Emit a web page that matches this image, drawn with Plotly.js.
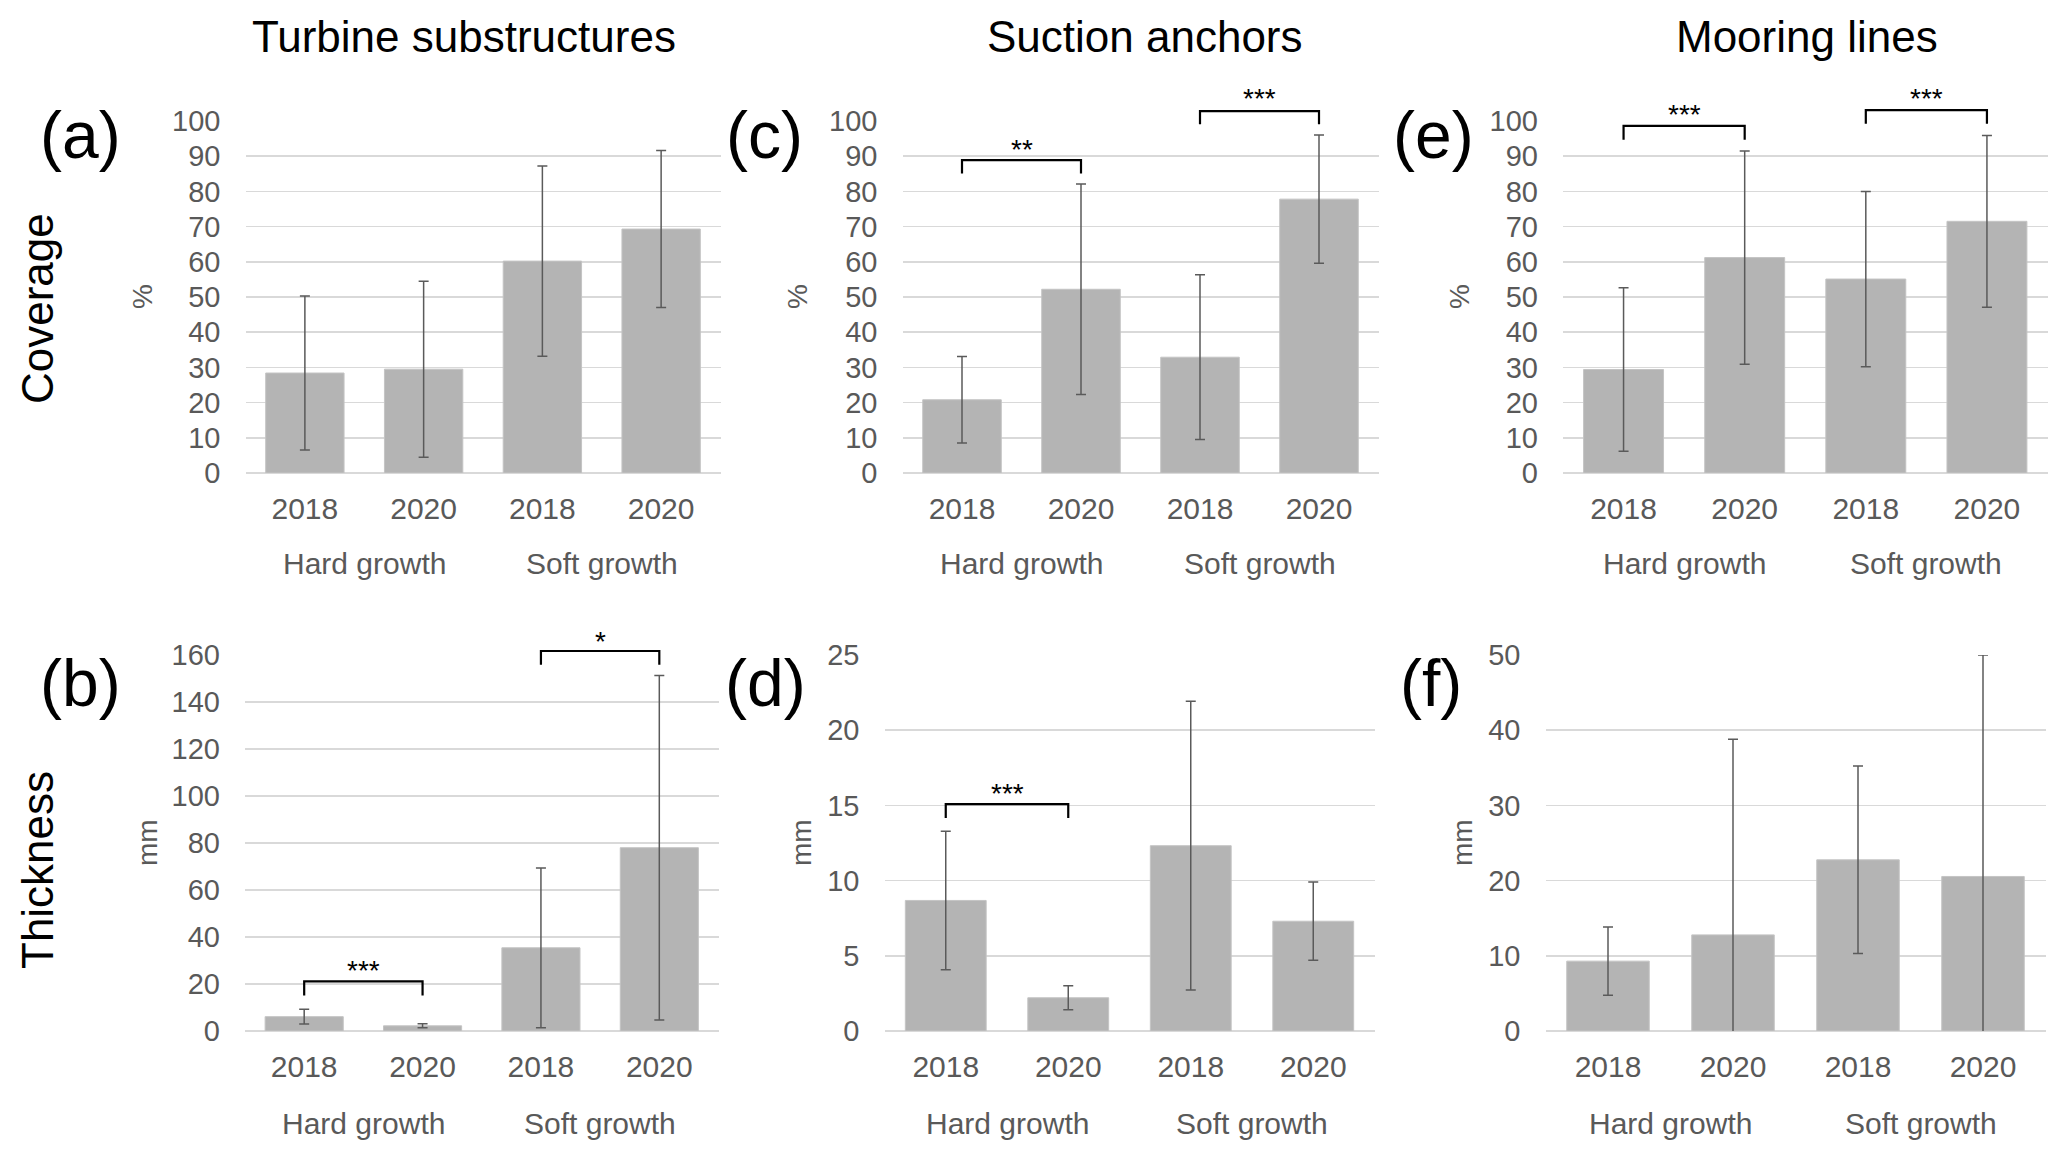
<!DOCTYPE html>
<html><head><meta charset="utf-8">
<script src="https://cdn.plot.ly/plotly-3.0.1.min.js"></script>
<style>html,body{margin:0;padding:0;background:#fff}#chart{width:2061px;height:1159px}</style>
</head><body><div id="chart"></div>
<script>
// ---------- data ----------
const yearLabels = ['2018', '2020', '2018', '2020'];
const groupLabels = ['Hard growth', 'Soft growth'];
const structureTitles = ['Turbine substructures', 'Suction anchors', 'Mooring lines'];
const rowTitles = ['Coverage', 'Thickness'];
const panelLetters = ['(a)', '(c)', '(e)', '(b)', '(d)', '(f)'];
const unitLabels = ['%', '%', '%', 'mm', 'mm', 'mm'];

// Coverage (%)
const coverageTurbine = [28.4, 29.5, 60.2, 69.3];
const coverageTurbineSD = [21.9, 25.0, 27.0, 22.3];
const coverageAnchors = [20.8, 52.2, 32.9, 77.8];
const coverageAnchorsSD = [12.3, 29.9, 23.4, 18.2];
const coverageMooring = [29.4, 61.2, 55.1, 71.5];
const coverageMooringSD = [23.2, 30.3, 24.9, 24.4];
// Thickness (mm)
const thicknessTurbine = [6.1, 2.2, 35.4, 78.0];
const thicknessTurbineSD = [3.15, 0.85, 34.0, 73.3];
const thicknessAnchors = [8.68, 2.21, 12.32, 7.30];
const thicknessAnchorsSD = [4.6, 0.8, 9.6, 2.6];
const thicknessMooring = [9.29, 12.78, 22.76, 20.55];
const thicknessMooringSD = [4.55, 26.0, 12.47, 29.45];

const axisMax = [100, 100, 100, 160, 25, 50];
const axisStep = [10, 10, 10, 20, 5, 10];

// significance brackets: panel index, from category, to category, bracket level, tick end, label, label level
const sigPanel = [1, 1, 2, 2, 3, 3, 4];
const sigFrom = [0, 2, 0, 2, 0, 2, 0];
const sigTo = [1, 3, 1, 3, 1, 3, 1];
const sigLevel = [88.9, 102.8, 98.6, 103.1, 21.1, 161.7, 15.09];
const sigTickEnd = [85.1, 99.1, 94.7, 99.2, 15.1, 155.9, 14.16];
const sigText = ['**', '***', '***', '***', '***', '*', '***'];
const sigTextLevel = [93.8, 108.3, 103.8, 108.3, 28.5, 168.5, 16.25];

// ---------- layout geometry (pixels) ----------
const W = 2061, H = 1159;
const FONT = 'Liberation Sans, Arial, sans-serif';
const panels = [
  {xd: [245.5, 720.5], yd: [121, 473], mean: coverageTurbine, sd: coverageTurbineSD, unitX: 143, letter: [80, 135], grp: 90},
  {xd: [902.5, 1378.5], yd: [121, 473], mean: coverageAnchors, sd: coverageAnchorsSD, unitX: 798, letter: [764, 135], grp: 90},
  {xd: [1563, 2047.5], yd: [121, 473], mean: coverageMooring, sd: coverageMooringSD, unitX: 1460, letter: [1433, 135], grp: 90},
  {xd: [245, 718.5], yd: [655, 1031], mean: thicknessTurbine, sd: thicknessTurbineSD, unitX: 147, letter: [80, 683], grp: 92},
  {xd: [884.5, 1374.5], yd: [655, 1031], mean: thicknessAnchors, sd: thicknessAnchorsSD, unitX: 801, letter: [765, 683], grp: 92},
  {xd: [1545.5, 2045.5], yd: [655, 1031], mean: thicknessMooring, sd: thicknessMooringSD, unitX: 1462, letter: [1431, 683], grp: 92}
];
const titlePos = [[464, 37], [1145, 37], [1807, 37]];
const rowTitlePos = [[37, 309], [37, 870]];

const PX = p => p / W;
const PY = p => 1 - p / H;

const data = [];
const layout = {
  width: W, height: H,
  margin: {l: 0, r: 0, t: 0, b: 0},
  paper_bgcolor: '#ffffff', plot_bgcolor: '#ffffff',
  showlegend: false,
  bargap: 0.34,
  font: {family: FONT, color: '#595959'},
  annotations: [], shapes: []
};

panels.forEach((p, i) => {
  const k = i + 1;
  const xs = k === 1 ? '' : String(k);
  data.push({
    type: 'bar',
    x: [0, 1, 2, 3],
    y: p.mean,
    xaxis: 'x' + xs, yaxis: 'y' + xs,
    marker: {color: '#b4b4b4', line: {color: '#c4c4c4', width: 1}},
    error_y: {type: 'data', array: p.sd, visible: true, color: '#5a5a5a', thickness: 1.5, width: 5},
    hoverinfo: 'none'
  });
  layout['xaxis' + xs] = {
    domain: [PX(p.xd[0]), PX(p.xd[1])],
    anchor: 'y' + xs,
    range: [-0.5, 3.5],
    tickmode: 'array', tickvals: [0, 1, 2, 3], ticktext: yearLabels,
    tickfont: {size: 30, color: '#595959', family: FONT},
    ticks: '', ticklabelstandoff: 15,
    showgrid: false, zeroline: false, showline: false, fixedrange: true
  };
  layout['yaxis' + xs] = {
    domain: [PY(p.yd[1]), PY(p.yd[0])],
    anchor: 'x' + xs,
    range: [0, axisMax[i]], tick0: 0, dtick: axisStep[i],
    tickfont: {size: 29, color: '#595959', family: FONT},
    ticks: '', ticklabelstandoff: 24,
    showgrid: true, gridcolor: '#d9d9d9', gridwidth: 1.5,
    zeroline: true, zerolinecolor: '#d9d9d9', zerolinewidth: 2,
    showline: false, fixedrange: true
  };
  // group labels
  groupLabels.forEach((g, j) => {
    layout.annotations.push({
      xref: 'x' + xs, yref: 'paper', x: 0.5 + 2 * j, y: PY(p.yd[1] + p.grp),
      text: g, showarrow: false, xanchor: 'center', yanchor: 'middle',
      font: {size: 30, color: '#595959', family: FONT}
    });
  });
  // unit label
  layout.annotations.push({
    xref: 'paper', yref: 'paper', x: PX(p.unitX), y: PY((p.yd[0] + p.yd[1]) / 2),
    text: unitLabels[i], textangle: -90, showarrow: false,
    xanchor: 'center', yanchor: 'middle',
    font: {size: 28, color: '#595959', family: FONT}
  });
  // panel letter
  layout.annotations.push({
    xref: 'paper', yref: 'paper', x: PX(p.letter[0]), y: PY(p.letter[1]),
    text: panelLetters[i], showarrow: false, xanchor: 'center', yanchor: 'middle',
    font: {size: 66, color: '#000000', family: FONT}
  });
});

structureTitles.forEach((t, i) => {
  layout.annotations.push({
    xref: 'paper', yref: 'paper', x: PX(titlePos[i][0]), y: PY(titlePos[i][1]),
    text: t, showarrow: false, xanchor: 'center', yanchor: 'middle',
    font: {size: 44, color: '#000000', family: FONT}
  });
});
rowTitles.forEach((t, i) => {
  layout.annotations.push({
    xref: 'paper', yref: 'paper', x: PX(rowTitlePos[i][0]), y: PY(rowTitlePos[i][1]),
    text: t, textangle: -90, showarrow: false, xanchor: 'center', yanchor: 'middle',
    font: {size: 44, color: '#000000', family: FONT}
  });
});

// significance brackets
const catPx = (p, c) => p.xd[0] + (c + 0.5) / 4 * (p.xd[1] - p.xd[0]);
const valPx = (p, i, v) => p.yd[1] - v / axisMax[i] * (p.yd[1] - p.yd[0]);
sigPanel.forEach((pi, s) => {
  const p = panels[pi];
  const x1 = catPx(p, sigFrom[s]), x2 = catPx(p, sigTo[s]);
  const yl = valPx(p, pi, sigLevel[s]), yt = valPx(p, pi, sigTickEnd[s]);
  layout.shapes.push({
    type: 'path', xref: 'paper', yref: 'paper',
    path: `M ${PX(x1)},${PY(yt)} L ${PX(x1)},${PY(yl)} L ${PX(x2)},${PY(yl)} L ${PX(x2)},${PY(yt)}`,
    line: {color: '#000000', width: 2.2}
  });
  layout.annotations.push({
    xref: 'paper', yref: 'paper', x: PX((x1 + x2) / 2), y: PY(valPx(p, pi, sigTextLevel[s]) + 6.5),
    text: sigText[s], showarrow: false, xanchor: 'center', yanchor: 'middle',
    font: {size: 28, color: '#000000', family: FONT}
  });
});

Plotly.newPlot('chart', data, layout, {staticPlot: true, displayModeBar: false});
</script>
</body></html>
